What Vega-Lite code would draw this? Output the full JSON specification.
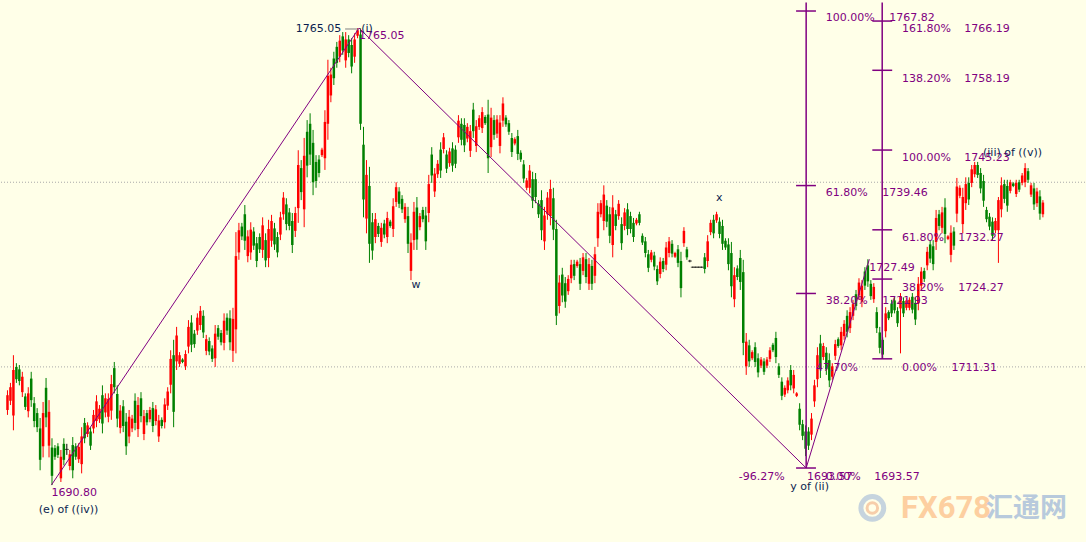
{
"$schema":"https://vega.github.io/schema/vega-lite/v6.json",
"width":1086,"height":542,
"autosize":{"type":"fit","contains":"padding"},
"padding":0,
"background":"#FFFFE8",
"config":{"view":{"stroke":null}},
"datasets":{
"candles":[
{"i":0,"h":1706.2,"l":1702.2,"o":1703.0,"c":1705.4},
{"i":1,"h":1707.4,"l":1703.8,"o":1704.5,"c":1706.7},
{"i":2,"h":1711.9,"l":1699.7,"o":1702.1,"c":1709.5},
{"i":3,"h":1710.6,"l":1707.4,"o":1710.0,"c":1708.0},
{"i":4,"h":1710.3,"l":1707.0,"o":1709.6,"c":1707.7},
{"i":5,"h":1709.2,"l":1705.1,"o":1705.9,"c":1708.4},
{"i":6,"h":1705.7,"l":1703.0,"o":1705.2,"c":1703.5},
{"i":7,"h":1706.7,"l":1701.8,"o":1702.8,"c":1705.7},
{"i":8,"h":1709.2,"l":1703.5,"o":1708.1,"c":1704.6},
{"i":9,"h":1705.1,"l":1700.2,"o":1704.1,"c":1701.2},
{"i":10,"h":1703.3,"l":1699.4,"o":1702.5,"c":1700.2},
{"i":11,"h":1701.7,"l":1693.2,"o":1700.0,"c":1694.9},
{"i":12,"h":1704.3,"l":1695.3,"o":1697.1,"c":1702.5},
{"i":13,"h":1708.2,"l":1700.2,"o":1706.6,"c":1701.8},
{"i":14,"h":1704.6,"l":1695.3,"o":1697.2,"c":1702.7},
{"i":15,"h":1698.4,"l":1690.8,"o":1696.9,"c":1692.3},
{"i":16,"h":1697.3,"l":1694.9,"o":1696.8,"c":1695.4},
{"i":17,"h":1697.6,"l":1695.2,"o":1697.1,"c":1695.7},
{"i":18,"h":1696.5,"l":1691.3,"o":1691.9,"c":1695.4},
{"i":19,"h":1698.4,"l":1694.0,"o":1697.5,"c":1694.9},
{"i":20,"h":1697.5,"l":1695.7,"o":1696.6,"c":1696.6},
{"i":21,"h":1696.5,"l":1693.2,"o":1693.9,"c":1695.8},
{"i":22,"h":1698.6,"l":1691.9,"o":1697.3,"c":1693.2},
{"i":23,"h":1697.6,"l":1694.9,"o":1697.1,"c":1695.4},
{"i":24,"h":1697.6,"l":1694.4,"o":1695.0,"c":1697.0},
{"i":25,"h":1700.2,"l":1692.7,"o":1694.2,"c":1698.7},
{"i":26,"h":1701.7,"l":1697.6,"o":1700.9,"c":1698.4},
{"i":27,"h":1701.0,"l":1698.6,"o":1699.1,"c":1700.5},
{"i":28,"h":1700.2,"l":1696.5,"o":1699.5,"c":1697.2},
{"i":29,"h":1703.0,"l":1699.2,"o":1700.0,"c":1702.2},
{"i":30,"h":1705.4,"l":1700.2,"o":1701.2,"c":1704.4},
{"i":31,"h":1703.8,"l":1700.9,"o":1701.5,"c":1703.2},
{"i":32,"h":1707.0,"l":1699.2,"o":1705.4,"c":1700.8},
{"i":33,"h":1705.7,"l":1701.8,"o":1702.6,"c":1704.9},
{"i":34,"h":1705.7,"l":1701.0,"o":1701.9,"c":1704.8},
{"i":35,"h":1708.7,"l":1701.4,"o":1702.9,"c":1707.2},
{"i":36,"h":1710.8,"l":1705.7,"o":1709.8,"c":1706.7},
{"i":37,"h":1707.0,"l":1700.2,"o":1705.6,"c":1701.6},
{"i":38,"h":1703.8,"l":1699.2,"o":1700.1,"c":1702.9},
{"i":39,"h":1704.6,"l":1699.4,"o":1703.6,"c":1700.4},
{"i":40,"h":1702.5,"l":1695.7,"o":1701.1,"c":1697.1},
{"i":41,"h":1703.0,"l":1697.6,"o":1698.7,"c":1701.9},
{"i":42,"h":1702.2,"l":1699.4,"o":1700.0,"c":1701.6},
{"i":43,"h":1705.7,"l":1699.7,"o":1704.5,"c":1700.9},
{"i":44,"h":1705.1,"l":1698.6,"o":1699.9,"c":1703.8},
{"i":45,"h":1705.9,"l":1701.0,"o":1704.9,"c":1702.0},
{"i":46,"h":1703.0,"l":1698.1,"o":1699.1,"c":1702.0},
{"i":47,"h":1703.0,"l":1700.5,"o":1702.5,"c":1701.0},
{"i":48,"h":1703.5,"l":1701.0,"o":1701.5,"c":1703.0},
{"i":49,"h":1704.3,"l":1699.4,"o":1703.3,"c":1700.4},
{"i":50,"h":1703.8,"l":1700.5,"o":1701.2,"c":1703.1},
{"i":51,"h":1702.2,"l":1697.8,"o":1698.7,"c":1701.3},
{"i":52,"h":1701.8,"l":1700.0,"o":1701.4,"c":1700.4},
{"i":53,"h":1704.9,"l":1700.0,"o":1701.0,"c":1703.9},
{"i":54,"h":1706.7,"l":1703.0,"o":1703.7,"c":1706.0},
{"i":55,"h":1712.7,"l":1705.7,"o":1707.1,"c":1711.3},
{"i":56,"h":1714.4,"l":1700.2,"o":1711.9,"c":1702.7},
{"i":57,"h":1716.5,"l":1709.5,"o":1710.9,"c":1715.1},
{"i":58,"h":1712.4,"l":1710.0,"o":1710.5,"c":1711.9},
{"i":59,"h":1711.4,"l":1710.6,"o":1711.2,"c":1710.8},
{"i":60,"h":1712.7,"l":1709.5,"o":1710.1,"c":1712.1},
{"i":61,"h":1717.6,"l":1712.2,"o":1713.3,"c":1716.5},
{"i":62,"h":1718.4,"l":1712.4,"o":1717.2,"c":1713.6},
{"i":63,"h":1716.0,"l":1713.1,"o":1715.4,"c":1713.7},
{"i":64,"h":1718.7,"l":1715.2,"o":1715.9,"c":1718.0},
{"i":65,"h":1719.9,"l":1716.0,"o":1716.8,"c":1719.1},
{"i":66,"h":1719.2,"l":1714.7,"o":1718.3,"c":1715.6},
{"i":67,"h":1715.2,"l":1711.9,"o":1712.6,"c":1714.5},
{"i":68,"h":1714.8,"l":1711.9,"o":1714.2,"c":1712.5},
{"i":69,"h":1713.5,"l":1710.8,"o":1713.0,"c":1711.3},
{"i":70,"h":1716.8,"l":1710.0,"o":1711.4,"c":1715.4},
{"i":71,"h":1716.8,"l":1714.4,"o":1716.3,"c":1714.9},
{"i":72,"h":1716.0,"l":1713.5,"o":1715.5,"c":1714.0},
{"i":73,"h":1718.7,"l":1712.7,"o":1713.9,"c":1717.5},
{"i":74,"h":1718.7,"l":1715.2,"o":1718.0,"c":1715.9},
{"i":75,"h":1719.2,"l":1712.7,"o":1717.9,"c":1714.0},
{"i":76,"h":1719.6,"l":1710.8,"o":1712.6,"c":1717.8},
{"i":77,"h":1731.9,"l":1712.2,"o":1716.1,"c":1728.0},
{"i":78,"h":1733.4,"l":1727.4,"o":1728.6,"c":1732.2},
{"i":79,"h":1733.4,"l":1730.6,"o":1732.8,"c":1731.2},
{"i":80,"h":1736.3,"l":1729.0,"o":1734.8,"c":1730.5},
{"i":81,"h":1732.2,"l":1727.0,"o":1728.0,"c":1731.2},
{"i":82,"h":1733.5,"l":1727.4,"o":1728.6,"c":1732.3},
{"i":83,"h":1732.7,"l":1729.0,"o":1732.0,"c":1729.7},
{"i":84,"h":1731.1,"l":1726.2,"o":1730.1,"c":1727.2},
{"i":85,"h":1731.7,"l":1728.5,"o":1731.1,"c":1729.1},
{"i":86,"h":1734.3,"l":1727.7,"o":1729.0,"c":1733.0},
{"i":87,"h":1731.7,"l":1726.2,"o":1730.6,"c":1727.3},
{"i":88,"h":1733.9,"l":1726.2,"o":1727.7,"c":1732.4},
{"i":89,"h":1734.7,"l":1729.5,"o":1730.5,"c":1733.7},
{"i":90,"h":1733.4,"l":1729.0,"o":1732.5,"c":1729.9},
{"i":91,"h":1731.9,"l":1727.8,"o":1731.1,"c":1728.6},
{"i":92,"h":1735.2,"l":1730.6,"o":1731.5,"c":1734.3},
{"i":93,"h":1738.4,"l":1733.9,"o":1734.8,"c":1737.5},
{"i":94,"h":1737.4,"l":1732.2,"o":1736.4,"c":1733.2},
{"i":95,"h":1735.8,"l":1732.2,"o":1735.1,"c":1732.9},
{"i":96,"h":1735.0,"l":1728.5,"o":1733.7,"c":1729.8},
{"i":97,"h":1736.0,"l":1731.1,"o":1732.1,"c":1735.0},
{"i":98,"h":1745.2,"l":1733.4,"o":1735.8,"c":1742.8},
{"i":99,"h":1743.6,"l":1737.1,"o":1742.3,"c":1738.4},
{"i":100,"h":1747.2,"l":1732.7,"o":1735.6,"c":1744.3},
{"i":101,"h":1750.1,"l":1740.8,"o":1748.2,"c":1742.7},
{"i":102,"h":1751.2,"l":1742.8,"o":1749.5,"c":1744.5},
{"i":103,"h":1748.5,"l":1737.9,"o":1746.4,"c":1740.0},
{"i":104,"h":1744.4,"l":1739.1,"o":1743.3,"c":1740.2},
{"i":105,"h":1744.4,"l":1740.8,"o":1743.7,"c":1741.5},
{"i":106,"h":1745.6,"l":1744.1,"o":1744.4,"c":1745.3},
{"i":107,"h":1751.7,"l":1742.0,"o":1743.9,"c":1749.8},
{"i":108,"h":1759.9,"l":1746.9,"o":1749.5,"c":1757.3},
{"i":109,"h":1758.6,"l":1753.0,"o":1754.1,"c":1757.5},
{"i":110,"h":1761.2,"l":1755.8,"o":1760.1,"c":1756.9},
{"i":111,"h":1762.8,"l":1758.6,"o":1762.0,"c":1759.4},
{"i":112,"h":1763.9,"l":1759.5,"o":1760.4,"c":1763.0},
{"i":113,"h":1764.4,"l":1760.7,"o":1763.7,"c":1761.4},
{"i":114,"h":1764.4,"l":1758.6,"o":1759.8,"c":1763.2},
{"i":115,"h":1763.9,"l":1760.3,"o":1763.2,"c":1761.0},
{"i":116,"h":1763.4,"l":1757.7,"o":1762.3,"c":1758.8},
{"i":117,"h":1764.2,"l":1759.4,"o":1760.4,"c":1763.2},
{"i":118,"h":1765.05,"l":1763.4,"o":1763.8,"c":1764.7},
{"i":119,"h":1765.0,"l":1748.5,"o":1764.0,"c":1749.5},
{"i":120,"h":1749.0,"l":1734.3,"o":1746.1,"c":1737.2},
{"i":121,"h":1743.6,"l":1731.7,"o":1734.1,"c":1741.2},
{"i":122,"h":1742.5,"l":1726.9,"o":1739.4,"c":1730.0},
{"i":123,"h":1735.0,"l":1727.4,"o":1733.5,"c":1728.9},
{"i":124,"h":1735.0,"l":1730.1,"o":1731.1,"c":1734.0},
{"i":125,"h":1733.4,"l":1731.1,"o":1732.9,"c":1731.6},
{"i":126,"h":1733.4,"l":1729.5,"o":1730.3,"c":1732.6},
{"i":127,"h":1733.9,"l":1730.9,"o":1733.3,"c":1731.5},
{"i":128,"h":1735.2,"l":1730.1,"o":1731.1,"c":1734.2},
{"i":129,"h":1733.9,"l":1732.6,"o":1733.6,"c":1732.9},
{"i":130,"h":1737.4,"l":1731.1,"o":1732.4,"c":1736.1},
{"i":131,"h":1740.0,"l":1736.0,"o":1736.8,"c":1739.2},
{"i":132,"h":1739.2,"l":1735.8,"o":1738.5,"c":1736.5},
{"i":133,"h":1737.9,"l":1735.0,"o":1737.3,"c":1735.6},
{"i":134,"h":1736.6,"l":1733.4,"o":1734.0,"c":1736.0},
{"i":135,"h":1736.0,"l":1728.5,"o":1734.5,"c":1730.0},
{"i":136,"h":1731.7,"l":1724.1,"o":1725.6,"c":1730.2},
{"i":137,"h":1736.8,"l":1729.0,"o":1730.6,"c":1735.2},
{"i":138,"h":1737.6,"l":1729.0,"o":1735.9,"c":1730.7},
{"i":139,"h":1735.0,"l":1732.2,"o":1732.7,"c":1734.5},
{"i":140,"h":1736.0,"l":1733.5,"o":1735.5,"c":1734.0},
{"i":141,"h":1736.0,"l":1729.0,"o":1734.6,"c":1730.4},
{"i":142,"h":1741.2,"l":1733.5,"o":1735.0,"c":1739.7},
{"i":143,"h":1745.7,"l":1739.9,"o":1744.5,"c":1741.1},
{"i":144,"h":1742.3,"l":1737.6,"o":1738.5,"c":1741.4},
{"i":145,"h":1743.6,"l":1740.7,"o":1741.3,"c":1743.0},
{"i":146,"h":1746.5,"l":1740.7,"o":1745.3,"c":1741.9},
{"i":147,"h":1748.0,"l":1744.7,"o":1745.4,"c":1747.3},
{"i":148,"h":1745.2,"l":1741.5,"o":1744.5,"c":1742.2},
{"i":149,"h":1745.6,"l":1742.5,"o":1743.1,"c":1745.0},
{"i":150,"h":1746.5,"l":1741.7,"o":1745.5,"c":1742.7},
{"i":151,"h":1746.0,"l":1742.3,"o":1745.3,"c":1743.0},
{"i":152,"h":1750.9,"l":1746.4,"o":1747.3,"c":1750.0},
{"i":153,"h":1750.4,"l":1746.0,"o":1749.5,"c":1746.9},
{"i":154,"h":1750.4,"l":1744.9,"o":1749.3,"c":1746.0},
{"i":155,"h":1749.6,"l":1746.5,"o":1747.1,"c":1749.0},
{"i":156,"h":1749.3,"l":1744.1,"o":1745.1,"c":1748.3},
{"i":157,"h":1752.9,"l":1747.2,"o":1751.8,"c":1748.3},
{"i":158,"h":1750.1,"l":1744.9,"o":1745.9,"c":1749.1},
{"i":159,"h":1750.9,"l":1748.5,"o":1749.0,"c":1750.4},
{"i":160,"h":1752.2,"l":1748.0,"o":1748.8,"c":1751.4},
{"i":161,"h":1750.9,"l":1749.3,"o":1750.6,"c":1749.6},
{"i":162,"h":1753.4,"l":1741.5,"o":1751.0,"c":1743.9},
{"i":163,"h":1752.1,"l":1744.1,"o":1745.7,"c":1750.5},
{"i":164,"h":1750.9,"l":1746.9,"o":1750.1,"c":1747.7},
{"i":165,"h":1750.9,"l":1747.2,"o":1747.9,"c":1750.2},
{"i":166,"h":1750.9,"l":1744.7,"o":1745.9,"c":1749.7},
{"i":167,"h":1753.8,"l":1749.0,"o":1750.0,"c":1752.8},
{"i":168,"h":1750.9,"l":1749.0,"o":1750.5,"c":1749.4},
{"i":169,"h":1750.1,"l":1747.7,"o":1749.6,"c":1748.2},
{"i":170,"h":1748.0,"l":1744.1,"o":1747.2,"c":1744.9},
{"i":171,"h":1747.3,"l":1746.0,"o":1746.3,"c":1747.0},
{"i":172,"h":1748.5,"l":1743.6,"o":1747.5,"c":1744.6},
{"i":173,"h":1745.2,"l":1743.3,"o":1744.8,"c":1743.7},
{"i":174,"h":1743.6,"l":1739.9,"o":1742.9,"c":1740.6},
{"i":175,"h":1740.7,"l":1738.7,"o":1739.1,"c":1740.3},
{"i":176,"h":1742.8,"l":1738.2,"o":1739.1,"c":1741.9},
{"i":177,"h":1741.7,"l":1735.8,"o":1740.5,"c":1737.0},
{"i":178,"h":1741.5,"l":1736.6,"o":1740.5,"c":1737.6},
{"i":179,"h":1737.1,"l":1734.2,"o":1736.5,"c":1734.8},
{"i":180,"h":1738.7,"l":1730.6,"o":1737.1,"c":1732.2},
{"i":181,"h":1736.0,"l":1729.0,"o":1730.4,"c":1734.6},
{"i":182,"h":1738.4,"l":1733.9,"o":1734.8,"c":1737.5},
{"i":183,"h":1740.4,"l":1733.0,"o":1734.5,"c":1738.9},
{"i":184,"h":1739.1,"l":1730.6,"o":1737.4,"c":1732.3},
{"i":185,"h":1733.9,"l":1716.8,"o":1732.4,"c":1718.3},
{"i":186,"h":1724.9,"l":1718.7,"o":1719.9,"c":1723.7},
{"i":187,"h":1726.1,"l":1720.5,"o":1725.0,"c":1721.6},
{"i":188,"h":1724.6,"l":1719.6,"o":1723.6,"c":1720.6},
{"i":189,"h":1724.9,"l":1721.7,"o":1722.3,"c":1724.3},
{"i":190,"h":1727.4,"l":1723.6,"o":1724.4,"c":1726.6},
{"i":191,"h":1727.4,"l":1724.1,"o":1726.7,"c":1724.8},
{"i":192,"h":1727.4,"l":1726.1,"o":1726.4,"c":1727.1},
{"i":193,"h":1727.7,"l":1722.5,"o":1726.7,"c":1723.5},
{"i":194,"h":1728.5,"l":1724.9,"o":1725.6,"c":1727.8},
{"i":195,"h":1728.5,"l":1723.6,"o":1727.5,"c":1724.6},
{"i":196,"h":1727.7,"l":1722.5,"o":1723.5,"c":1726.7},
{"i":197,"h":1727.4,"l":1722.5,"o":1726.4,"c":1723.5},
{"i":198,"h":1729.5,"l":1723.6,"o":1724.8,"c":1728.3},
{"i":199,"h":1736.6,"l":1729.5,"o":1730.9,"c":1735.2},
{"i":200,"h":1737.1,"l":1734.3,"o":1734.8,"c":1736.6},
{"i":201,"h":1739.5,"l":1732.2,"o":1733.7,"c":1738.0},
{"i":202,"h":1737.1,"l":1732.7,"o":1736.2,"c":1733.6},
{"i":203,"h":1736.0,"l":1730.1,"o":1734.8,"c":1731.3},
{"i":204,"h":1737.9,"l":1727.8,"o":1729.8,"c":1735.9},
{"i":205,"h":1735.5,"l":1732.2,"o":1734.8,"c":1732.9},
{"i":206,"h":1737.1,"l":1733.9,"o":1734.5,"c":1736.5},
{"i":207,"h":1734.3,"l":1729.0,"o":1733.2,"c":1730.1},
{"i":208,"h":1735.8,"l":1732.2,"o":1732.9,"c":1735.1},
{"i":209,"h":1736.6,"l":1731.4,"o":1735.6,"c":1732.4},
{"i":210,"h":1735.2,"l":1731.7,"o":1734.5,"c":1732.4},
{"i":211,"h":1734.2,"l":1730.3,"o":1733.4,"c":1731.1},
{"i":212,"h":1734.2,"l":1733.0,"o":1733.3,"c":1733.9},
{"i":213,"h":1735.2,"l":1733.0,"o":1734.8,"c":1733.4},
{"i":214,"h":1731.7,"l":1729.8,"o":1731.3,"c":1730.2},
{"i":215,"h":1731.1,"l":1727.8,"o":1730.4,"c":1728.5},
{"i":216,"h":1729.0,"l":1725.4,"o":1728.3,"c":1726.1},
{"i":217,"h":1729.0,"l":1727.0,"o":1727.4,"c":1728.6},
{"i":218,"h":1728.7,"l":1725.7,"o":1728.1,"c":1726.3},
{"i":219,"h":1726.5,"l":1723.3,"o":1725.9,"c":1723.9},
{"i":220,"h":1727.8,"l":1724.4,"o":1725.1,"c":1727.1},
{"i":221,"h":1727.7,"l":1725.4,"o":1727.2,"c":1725.9},
{"i":222,"h":1730.3,"l":1725.7,"o":1726.6,"c":1729.4},
{"i":223,"h":1731.1,"l":1727.8,"o":1728.5,"c":1730.4},
{"i":224,"h":1730.6,"l":1727.8,"o":1730.0,"c":1728.4},
{"i":225,"h":1728.7,"l":1727.7,"o":1727.9,"c":1728.5},
{"i":226,"h":1729.8,"l":1726.2,"o":1729.1,"c":1726.9},
{"i":227,"h":1728.7,"l":1721.3,"o":1727.2,"c":1722.8},
{"i":228,"h":1732.7,"l":1729.5,"o":1730.1,"c":1732.1},
{"i":229,"h":1729.5,"l":1727.4,"o":1729.1,"c":1727.8},
{"i":230,"h":1727.4,"l":1727.0,"o":1727.2,"c":1727.2},
{"i":231,"h":1726.3,"l":1726.1,"o":1726.2,"c":1726.2},
{"i":232,"h":1726.3,"l":1726.1,"o":1726.2,"c":1726.2},
{"i":233,"h":1726.3,"l":1726.1,"o":1726.2,"c":1726.2},
{"i":234,"h":1726.3,"l":1726.1,"o":1726.2,"c":1726.2},
{"i":235,"h":1728.5,"l":1725.2,"o":1727.8,"c":1725.9},
{"i":236,"h":1731.4,"l":1726.2,"o":1727.2,"c":1730.4},
{"i":237,"h":1733.9,"l":1731.4,"o":1731.9,"c":1733.4},
{"i":238,"h":1734.7,"l":1730.9,"o":1733.9,"c":1731.7},
{"i":239,"h":1735.2,"l":1733.4,"o":1733.8,"c":1734.8},
{"i":240,"h":1734.3,"l":1730.9,"o":1733.6,"c":1731.6},
{"i":241,"h":1733.9,"l":1729.0,"o":1732.9,"c":1730.0},
{"i":242,"h":1730.9,"l":1729.0,"o":1730.5,"c":1729.4},
{"i":243,"h":1730.9,"l":1725.7,"o":1729.9,"c":1726.7},
{"i":244,"h":1730.3,"l":1721.3,"o":1728.5,"c":1723.1},
{"i":245,"h":1726.2,"l":1719.7,"o":1721.0,"c":1724.9},
{"i":246,"h":1726.5,"l":1724.1,"o":1726.0,"c":1724.6},
{"i":247,"h":1729.0,"l":1722.5,"o":1727.7,"c":1723.8},
{"i":248,"h":1727.4,"l":1711.9,"o":1725.4,"c":1713.9},
{"i":249,"h":1715.5,"l":1708.7,"o":1710.1,"c":1714.1},
{"i":250,"h":1714.4,"l":1710.0,"o":1713.5,"c":1710.9},
{"i":251,"h":1712.7,"l":1711.1,"o":1711.4,"c":1712.4},
{"i":252,"h":1714.0,"l":1710.0,"o":1713.2,"c":1710.8},
{"i":253,"h":1712.2,"l":1708.3,"o":1711.4,"c":1709.1},
{"i":254,"h":1711.6,"l":1709.8,"o":1710.2,"c":1711.2},
{"i":255,"h":1711.4,"l":1708.7,"o":1710.9,"c":1709.2},
{"i":256,"h":1711.6,"l":1709.8,"o":1710.2,"c":1711.2},
{"i":257,"h":1713.2,"l":1710.8,"o":1711.3,"c":1712.7},
{"i":258,"h":1713.9,"l":1712.4,"o":1713.6,"c":1712.7},
{"i":259,"h":1715.7,"l":1710.6,"o":1714.7,"c":1711.6},
{"i":260,"h":1710.6,"l":1708.2,"o":1710.1,"c":1708.7},
{"i":261,"h":1708.3,"l":1704.6,"o":1707.6,"c":1705.3},
{"i":262,"h":1707.0,"l":1705.1,"o":1705.5,"c":1706.6},
{"i":263,"h":1708.3,"l":1705.7,"o":1706.2,"c":1707.8},
{"i":264,"h":1710.3,"l":1706.2,"o":1709.5,"c":1707.0},
{"i":265,"h":1709.5,"l":1705.7,"o":1706.5,"c":1708.7},
{"i":266,"h":1705.9,"l":1705.1,"o":1705.3,"c":1705.7},
{"i":267,"h":1704.1,"l":1699.7,"o":1703.2,"c":1700.6},
{"i":268,"h":1701.4,"l":1698.1,"o":1700.7,"c":1698.8},
{"i":269,"h":1700.5,"l":1695.5,"o":1699.5,"c":1696.7},
{"i":270,"h":1700.2,"l":1696.5,"o":1699.5,"c":1697.2},
{"i":271,"h":1702.5,"l":1698.1,"o":1699.0,"c":1701.6},
{"i":272,"h":1707.9,"l":1703.5,"o":1704.4,"c":1707.0},
{"i":273,"h":1713.2,"l":1706.7,"o":1708.0,"c":1711.9},
{"i":274,"h":1715.2,"l":1708.2,"o":1713.8,"c":1709.6},
{"i":275,"h":1713.9,"l":1711.1,"o":1711.6,"c":1713.4},
{"i":276,"h":1713.2,"l":1708.7,"o":1712.3,"c":1709.6},
{"i":277,"h":1712.2,"l":1706.7,"o":1711.1,"c":1707.8},
{"i":278,"h":1710.6,"l":1707.9,"o":1708.4,"c":1710.1},
{"i":279,"h":1714.4,"l":1711.1,"o":1711.8,"c":1713.7},
{"i":280,"h":1714.8,"l":1713.1,"o":1714.5,"c":1713.4},
{"i":281,"h":1716.5,"l":1712.7,"o":1713.5,"c":1715.7},
{"i":282,"h":1717.6,"l":1714.4,"o":1715.0,"c":1717.0},
{"i":283,"h":1719.2,"l":1714.8,"o":1718.3,"c":1715.7},
{"i":284,"h":1719.7,"l":1715.5,"o":1716.3,"c":1718.9},
{"i":285,"h":1720.9,"l":1717.6,"o":1718.3,"c":1720.2},
{"i":286,"h":1722.5,"l":1719.2,"o":1721.8,"c":1719.9},
{"i":287,"h":1724.4,"l":1720.9,"o":1721.6,"c":1723.7},
{"i":288,"h":1724.1,"l":1719.7,"o":1720.6,"c":1723.2},
{"i":289,"h":1726.2,"l":1722.5,"o":1725.5,"c":1723.2},
{"i":290,"h":1727.49,"l":1723.0,"o":1726.5,"c":1723.9},
{"i":291,"h":1724.1,"l":1720.9,"o":1723.5,"c":1721.5},
{"i":292,"h":1723.6,"l":1720.4,"o":1721.0,"c":1723.0},
{"i":293,"h":1719.7,"l":1715.5,"o":1718.9,"c":1716.3},
{"i":294,"h":1716.5,"l":1712.2,"o":1715.6,"c":1713.1},
{"i":295,"h":1714.8,"l":1711.31,"o":1714.4,"c":1712.0},
{"i":296,"h":1719.7,"l":1714.8,"o":1715.8,"c":1718.7},
{"i":297,"h":1719.2,"l":1717.6,"o":1718.9,"c":1717.9},
{"i":298,"h":1720.9,"l":1718.1,"o":1720.3,"c":1718.7},
{"i":299,"h":1721.3,"l":1718.7,"o":1720.8,"c":1719.2},
{"i":300,"h":1719.7,"l":1716.5,"o":1719.1,"c":1717.1},
{"i":301,"h":1722.0,"l":1712.2,"o":1719.5,"c":1721.5},
{"i":302,"h":1721.3,"l":1718.1,"o":1720.7,"c":1718.7},
{"i":303,"h":1721.2,"l":1719.2,"o":1719.6,"c":1720.8},
{"i":304,"h":1721.3,"l":1719.2,"o":1719.6,"c":1720.9},
{"i":305,"h":1722.0,"l":1718.7,"o":1721.4,"c":1719.3},
{"i":306,"h":1721.3,"l":1716.8,"o":1720.4,"c":1717.7},
{"i":307,"h":1724.6,"l":1719.2,"o":1720.3,"c":1723.5},
{"i":308,"h":1726.2,"l":1722.5,"o":1723.2,"c":1725.5},
{"i":309,"h":1726.1,"l":1723.8,"o":1725.6,"c":1724.3},
{"i":310,"h":1729.5,"l":1725.7,"o":1726.5,"c":1728.7},
{"i":311,"h":1730.6,"l":1726.9,"o":1729.9,"c":1727.6},
{"i":312,"h":1730.6,"l":1725.7,"o":1729.6,"c":1726.7},
{"i":313,"h":1735.5,"l":1729.0,"o":1730.3,"c":1734.2},
{"i":314,"h":1735.5,"l":1732.2,"o":1734.8,"c":1732.9},
{"i":315,"h":1736.0,"l":1731.7,"o":1732.6,"c":1735.1},
{"i":316,"h":1737.4,"l":1730.1,"o":1735.9,"c":1731.6},
{"i":317,"h":1731.4,"l":1730.6,"o":1730.8,"c":1731.2},
{"i":318,"h":1733.0,"l":1727.0,"o":1728.2,"c":1731.8},
{"i":319,"h":1732.7,"l":1729.0,"o":1732.0,"c":1729.7},
{"i":320,"h":1740.7,"l":1733.5,"o":1734.9,"c":1739.3},
{"i":321,"h":1739.5,"l":1737.4,"o":1737.8,"c":1739.1},
{"i":322,"h":1739.1,"l":1731.7,"o":1733.2,"c":1737.6},
{"i":323,"h":1740.8,"l":1735.5,"o":1736.6,"c":1739.7},
{"i":324,"h":1740.8,"l":1736.3,"o":1739.9,"c":1737.2},
{"i":325,"h":1742.8,"l":1739.2,"o":1739.9,"c":1742.1},
{"i":326,"h":1743.3,"l":1740.8,"o":1741.3,"c":1742.8},
{"i":327,"h":1743.3,"l":1740.7,"o":1742.8,"c":1741.2},
{"i":328,"h":1742.3,"l":1738.2,"o":1741.5,"c":1739.0},
{"i":329,"h":1741.2,"l":1736.0,"o":1740.2,"c":1737.0},
{"i":330,"h":1736.0,"l":1733.5,"o":1735.5,"c":1734.0},
{"i":331,"h":1735.0,"l":1732.2,"o":1734.4,"c":1732.8},
{"i":332,"h":1734.3,"l":1730.6,"o":1733.6,"c":1731.3},
{"i":333,"h":1734.2,"l":1731.7,"o":1732.2,"c":1733.7},
{"i":334,"h":1737.6,"l":1726.9,"o":1732.2,"c":1737.1},
{"i":335,"h":1740.8,"l":1734.3,"o":1735.6,"c":1739.5},
{"i":336,"h":1740.4,"l":1736.6,"o":1739.7,"c":1737.3},
{"i":337,"h":1740.4,"l":1735.2,"o":1739.4,"c":1736.2},
{"i":338,"h":1740.4,"l":1738.2,"o":1738.6,"c":1740.0},
{"i":339,"h":1740.0,"l":1739.2,"o":1739.8,"c":1739.4},
{"i":340,"h":1740.4,"l":1737.6,"o":1738.1,"c":1739.9},
{"i":341,"h":1740.4,"l":1738.4,"o":1740.0,"c":1738.8},
{"i":342,"h":1741.5,"l":1739.5,"o":1739.9,"c":1741.1},
{"i":343,"h":1743.1,"l":1739.2,"o":1740.0,"c":1742.3},
{"i":344,"h":1742.3,"l":1739.9,"o":1741.8,"c":1740.4},
{"i":345,"h":1739.9,"l":1737.6,"o":1738.0,"c":1739.5},
{"i":346,"h":1739.9,"l":1735.5,"o":1739.0,"c":1736.4},
{"i":347,"h":1739.1,"l":1736.0,"o":1736.6,"c":1738.5},
{"i":348,"h":1738.7,"l":1733.9,"o":1737.7,"c":1734.9},
{"i":349,"h":1737.1,"l":1734.3,"o":1734.8,"c":1736.7}
],
"grid":[{"p":1740},{"p":1710}],
"zig":[{"i":14.8,"p":1690.8},{"i":118.5,"p":1765.05},{"i":269.2,"p":1693.57},{"i":290.5,"p":1727.49}],
"segs":[
{"i":269.2,"i2":269.2,"p":1769.2,"p2":1693.57},
{"i":265.8,"i2":272.5,"p":1767.82,"p2":1767.82},
{"i":265.8,"i2":272.5,"p":1739.46,"p2":1739.46},
{"i":265.8,"i2":272.5,"p":1721.93,"p2":1721.93},
{"i":265.8,"i2":272.5,"p":1693.57,"p2":1693.57},
{"i":294.83,"i2":294.83,"p":1769.2,"p2":1711.31},
{"i":291.5,"i2":298.2,"p":1766.19,"p2":1766.19},
{"i":291.5,"i2":298.2,"p":1758.19,"p2":1758.19},
{"i":291.5,"i2":298.2,"p":1745.23,"p2":1745.23},
{"i":291.5,"i2":298.2,"p":1732.27,"p2":1732.27},
{"i":291.5,"i2":298.2,"p":1724.27,"p2":1724.27},
{"i":291.5,"i2":298.2,"p":1711.31,"p2":1711.31}
],
"arrow":[{"i":113.8,"i2":118.3,"p":1764.9,"p2":1764.9}],
"labels":[
{"i":275.83,"p":1766.69,"t":"100.00%","g":"f"},
{"i":297.17,"p":1766.69,"t":"1767.82","g":"f"},
{"i":301.5,"p":1764.9,"t":"161.80%","g":"f"},
{"i":322.5,"p":1764.9,"t":"1766.19","g":"f"},
{"i":301.5,"p":1756.77,"t":"138.20%","g":"f"},
{"i":322.5,"p":1756.77,"t":"1758.19","g":"f"},
{"i":301.5,"p":1743.94,"t":"100.00%","g":"f"},
{"i":322.5,"p":1743.94,"t":"1745.23","g":"f"},
{"i":275.83,"p":1738.3,"t":"61.80%","g":"f"},
{"i":294.83,"p":1738.3,"t":"1739.46","g":"f"},
{"i":301.5,"p":1730.94,"t":"61.80%","g":"f"},
{"i":320.5,"p":1730.94,"t":"1732.27","g":"f"},
{"i":290.5,"p":1726.07,"t":"1727.49","g":"f"},
{"i":301.5,"p":1722.82,"t":"38.20%","g":"f"},
{"i":320.5,"p":1722.82,"t":"1724.27","g":"f"},
{"i":275.83,"p":1720.7,"t":"38.20%","g":"f"},
{"i":294.83,"p":1720.7,"t":"1721.93","g":"f"},
{"i":272.5,"p":1709.82,"t":"47.70%","g":"f"},
{"i":301.5,"p":1709.82,"t":"0.00%","g":"f"},
{"i":318.17,"p":1709.82,"t":"1711.31","g":"f"},
{"i":246.5,"p":1692.11,"t":"-96.27%","g":"f"},
{"i":269.5,"p":1692.11,"t":"1693.57","g":"f"},
{"i":275.83,"p":1692.11,"t":"0.00%","g":"f"},
{"i":292.17,"p":1692.11,"t":"1693.57","g":"f"},
{"i":118.5,"p":1763.84,"t":"1765.05","g":"f"},
{"i":14.8,"p":1689.51,"t":"1690.80","g":"f"},
{"i":97.2,"p":1764.9,"t":"1765.05","g":"n"},
{"i":119.2,"p":1764.9,"t":"(i)","g":"n"},
{"i":10.5,"p":1686.75,"t":"(e) of ((iv))","g":"n"},
{"i":136.2,"p":1723.3,"t":"w","g":"n"},
{"i":238.8,"p":1737.44,"t":"x","g":"n"},
{"i":263.8,"p":1690.49,"t":"y of (ii)","g":"n"},
{"i":328.8,"p":1744.83,"t":"(iii) of ((v))","g":"n"}
],
"wm1":[{"i":301.2,"p":1686.91,"t":"FX678"}],
"wm2":[{"i":329.8,"p":1686.91,"t":"汇通网"}],
"logo":[{"i":291.5,"p":1687.08}]
},
"layer":[
{"data":{"name":"grid"},"mark":{"type":"rule","color":"#A8A8A8","strokeDash":[1,2],"strokeWidth":1},
 "encoding":{"y":{"field":"p","type":"quantitative","scale":{"domain":[1681.55,1769.61],"nice":false,"zero":false},"axis":null}}},
{"data":{"name":"candles"},"mark":{"type":"rule","strokeWidth":1},
 "encoding":{
  "x":{"field":"i","type":"quantitative","scale":{"domain":[-0.5,361.5],"nice":false,"zero":false},"axis":null},
  "y":{"field":"l","type":"quantitative","scale":{"domain":[1681.55,1769.61],"nice":false,"zero":false},"axis":null},
  "y2":{"field":"h"},
  "color":{"condition":[{"test":"datum.c>datum.o","value":"#FF0000"},{"test":"datum.c<datum.o","value":"#008000"}],"value":"#000000"}}},
{"data":{"name":"candles"},"mark":{"type":"bar","width":2.5},
 "encoding":{
  "x":{"field":"i","type":"quantitative","scale":{"domain":[-0.5,361.5],"nice":false,"zero":false},"axis":null},
  "y":{"field":"o","type":"quantitative","scale":{"domain":[1681.55,1769.61],"nice":false,"zero":false},"axis":null},
  "y2":{"field":"c"},
  "color":{"condition":[{"test":"datum.c>datum.o","value":"#FF0000"},{"test":"datum.c<datum.o","value":"#008000"}],"value":"#000000"}}},
{"data":{"name":"candles"},"transform":[{"filter":"datum.o==datum.c"}],"mark":{"type":"tick","orient":"horizontal","size":4,"thickness":1,"color":"#000000"},
 "encoding":{
  "x":{"field":"i","type":"quantitative","scale":{"domain":[-0.5,361.5],"nice":false,"zero":false},"axis":null},
  "y":{"field":"c","type":"quantitative","scale":{"domain":[1681.55,1769.61],"nice":false,"zero":false},"axis":null}}},
{"data":{"name":"zig"},"mark":{"type":"line","color":"#800080","strokeWidth":1},
 "encoding":{
  "x":{"field":"i","type":"quantitative","scale":{"domain":[-0.5,361.5],"nice":false,"zero":false},"axis":null},
  "y":{"field":"p","type":"quantitative","scale":{"domain":[1681.55,1769.61],"nice":false,"zero":false},"axis":null}}},
{"data":{"name":"segs"},"mark":{"type":"rule","color":"#800080","strokeWidth":1.5},
 "encoding":{
  "x":{"field":"i","type":"quantitative","scale":{"domain":[-0.5,361.5],"nice":false,"zero":false},"axis":null},
  "x2":{"field":"i2"},
  "y":{"field":"p","type":"quantitative","scale":{"domain":[1681.55,1769.61],"nice":false,"zero":false},"axis":null},
  "y2":{"field":"p2"}}},
{"data":{"name":"arrow"},"mark":{"type":"rule","color":"#808080","strokeWidth":1},
 "encoding":{
  "x":{"field":"i","type":"quantitative","scale":{"domain":[-0.5,361.5],"nice":false,"zero":false},"axis":null},
  "x2":{"field":"i2"},
  "y":{"field":"p","type":"quantitative","scale":{"domain":[1681.55,1769.61],"nice":false,"zero":false},"axis":null},
  "y2":{"field":"p2"}}},
{"data":{"name":"logo"},"mark":{"type":"point","shape":"circle","size":520,"filled":false,"stroke":"#B8CADC","strokeWidth":5,"opacity":0.8},
 "encoding":{
  "x":{"field":"i","type":"quantitative","scale":{"domain":[-0.5,361.5],"nice":false,"zero":false},"axis":null},
  "y":{"field":"p","type":"quantitative","scale":{"domain":[1681.55,1769.61],"nice":false,"zero":false},"axis":null}}},
{"data":{"name":"logo"},"mark":{"type":"point","shape":"circle","size":110,"filled":false,"stroke":"#F7C9A4","strokeWidth":3,"opacity":0.9},
 "encoding":{
  "x":{"field":"i","type":"quantitative","scale":{"domain":[-0.5,361.5],"nice":false,"zero":false},"axis":null},
  "y":{"field":"p","type":"quantitative","scale":{"domain":[1681.55,1769.61],"nice":false,"zero":false},"axis":null}}},
{"data":{"name":"wm1"},"mark":{"type":"text","align":"left","baseline":"middle","font":"Roboto","fontWeight":"bold","fontSize":31,"color":"#FDCFA0"},
 "encoding":{
  "x":{"field":"i","type":"quantitative","scale":{"domain":[-0.5,361.5],"nice":false,"zero":false},"axis":null},
  "y":{"field":"p","type":"quantitative","scale":{"domain":[1681.55,1769.61],"nice":false,"zero":false},"axis":null},
  "text":{"field":"t"}}},
{"data":{"name":"wm2"},"mark":{"type":"text","align":"left","baseline":"middle","font":"Noto Sans CJK SC","fontWeight":"bold","fontSize":27,"color":"#B8CADC"},
 "encoding":{
  "x":{"field":"i","type":"quantitative","scale":{"domain":[-0.5,361.5],"nice":false,"zero":false},"axis":null},
  "y":{"field":"p","type":"quantitative","scale":{"domain":[1681.55,1769.61],"nice":false,"zero":false},"axis":null},
  "text":{"field":"t"}}},
{"data":{"name":"labels"},"mark":{"type":"text","align":"left","baseline":"middle","font":"DejaVu Sans","fontSize":11},
 "encoding":{
  "x":{"field":"i","type":"quantitative","scale":{"domain":[-0.5,361.5],"nice":false,"zero":false},"axis":null},
  "y":{"field":"p","type":"quantitative","scale":{"domain":[1681.55,1769.61],"nice":false,"zero":false},"axis":null},
  "text":{"field":"t"},
  "color":{"condition":{"test":"datum.g=='n'","value":"#0A1E50"},"value":"#800080"}}}
]
}
